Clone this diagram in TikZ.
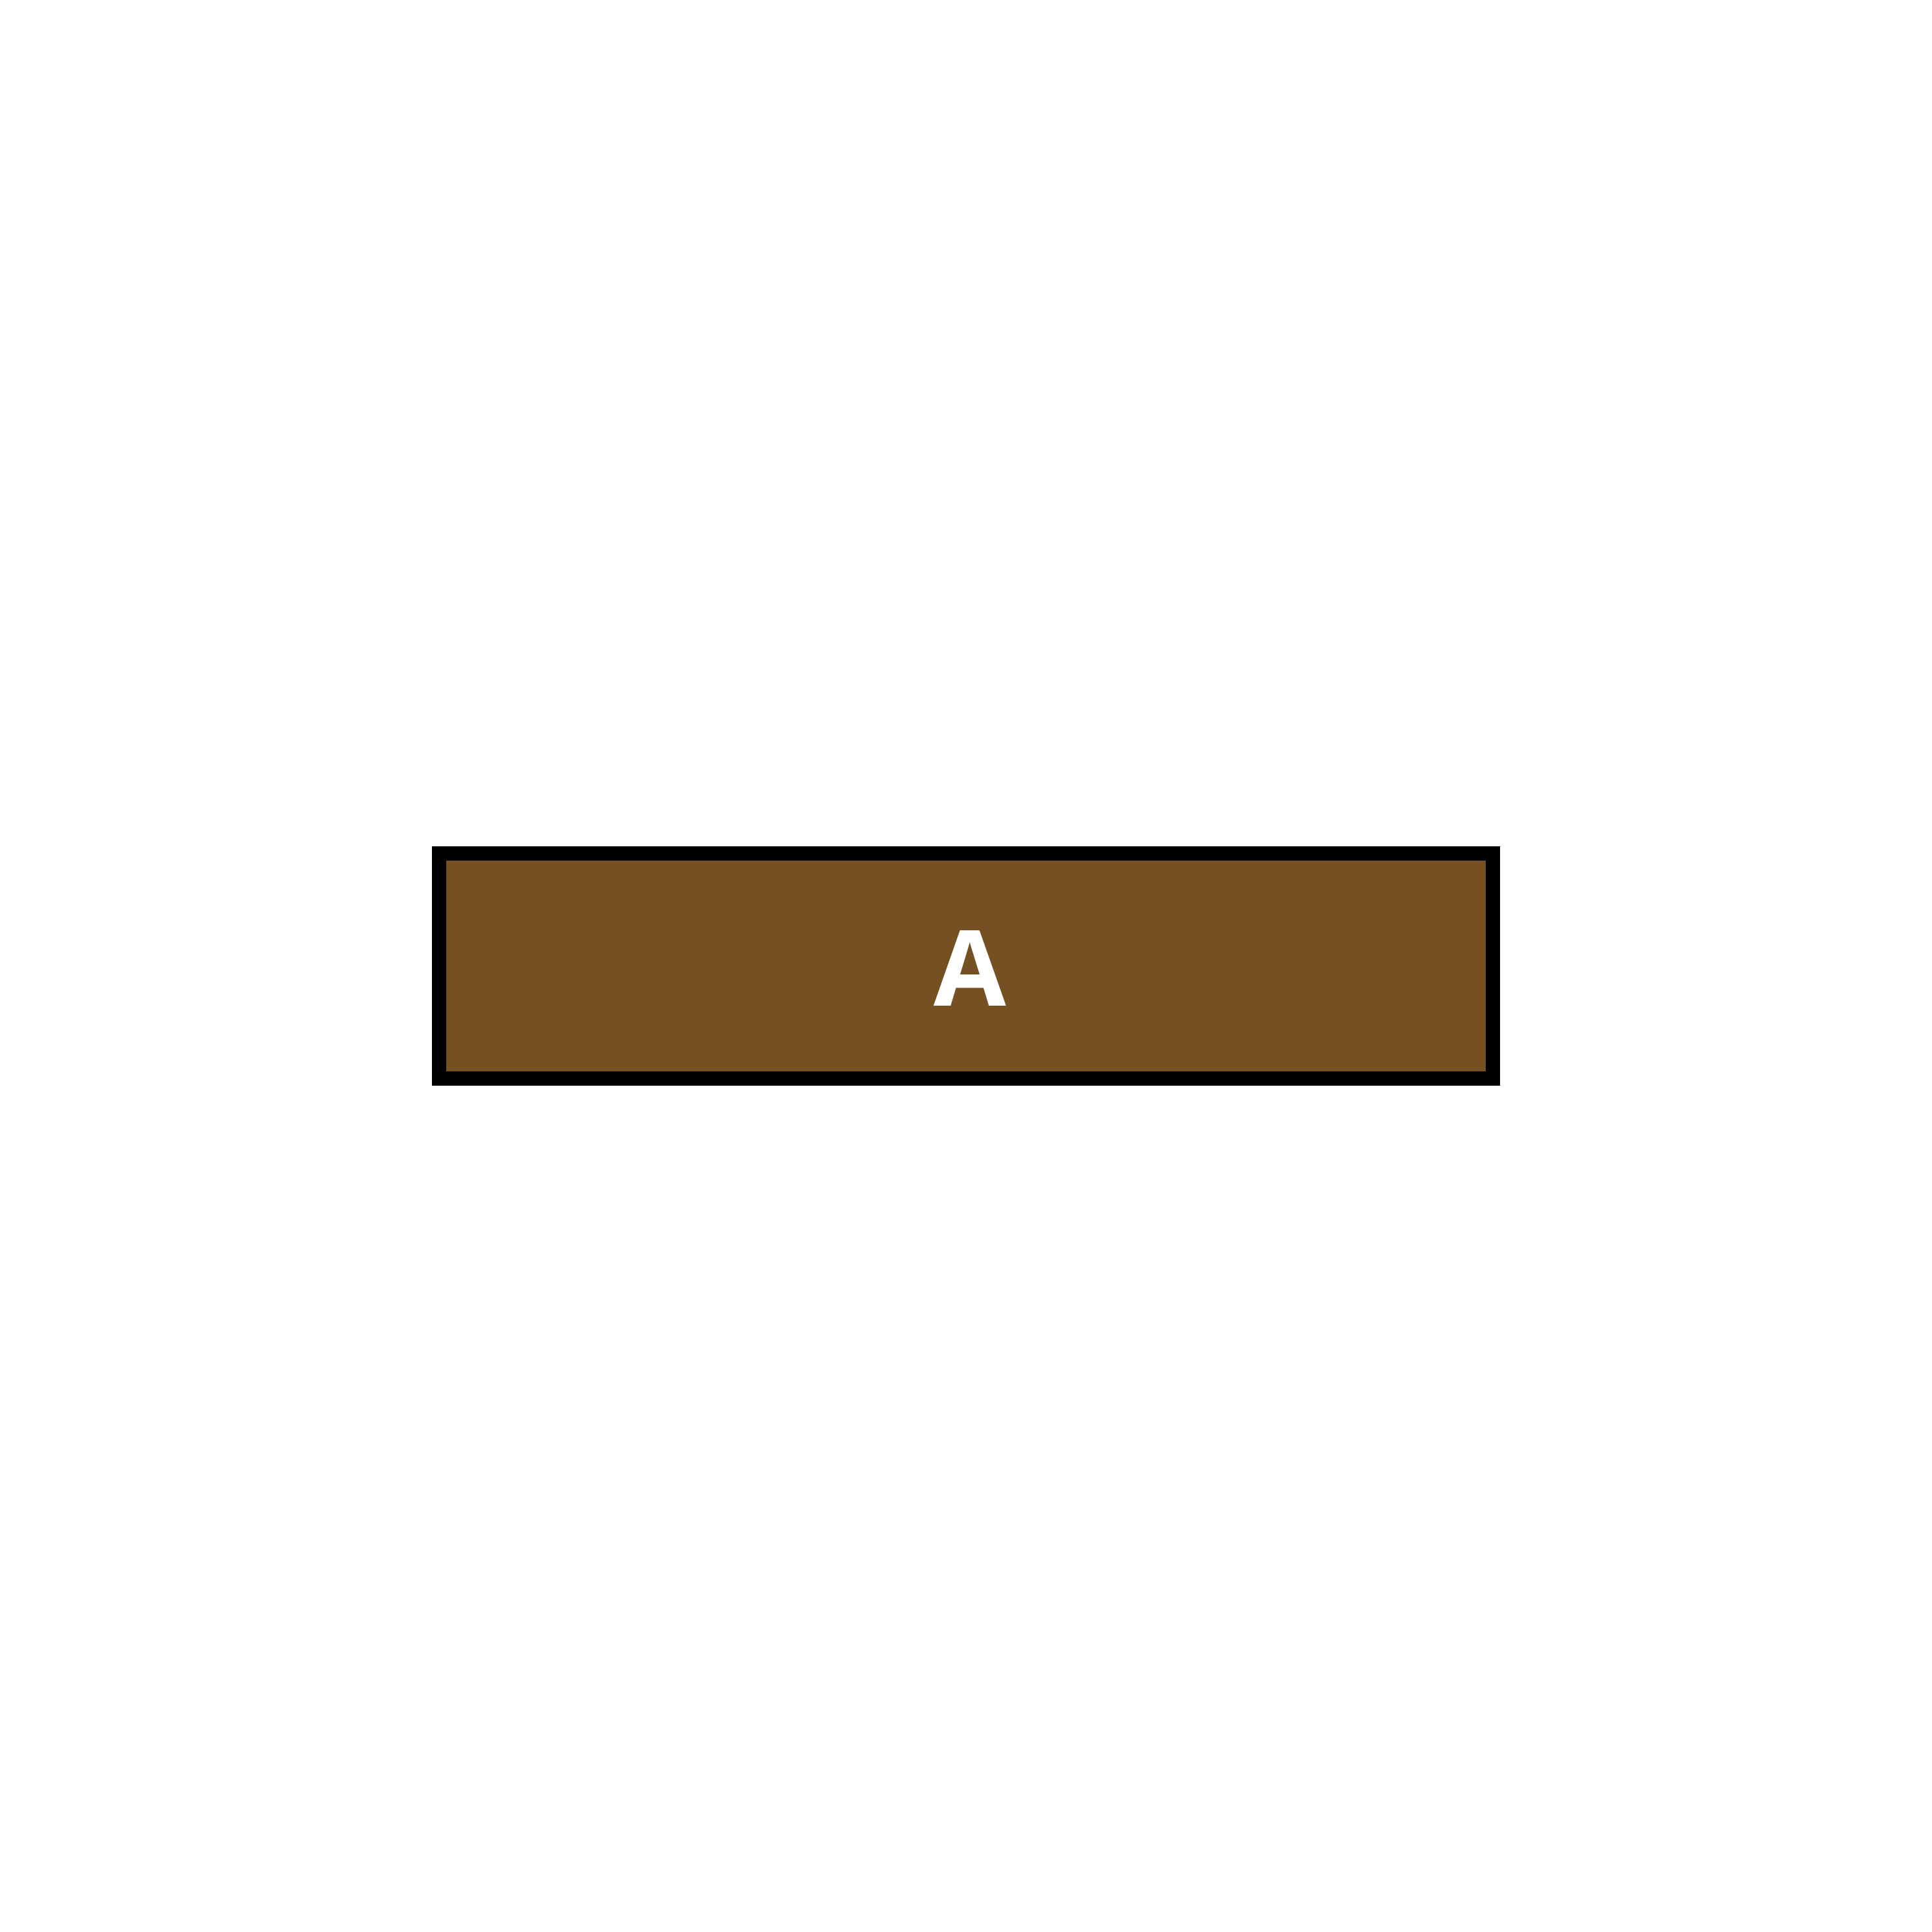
\documentclass[tikz,border=0pt]{standalone}
\usepackage{fontspec}
\usepackage{tikz}
\newfontfamily\blockfont{Open Sans}
\definecolor{blockbrown}{RGB}{117,80,35}

\begin{document}
\begin{tikzpicture}
      \useasboundingbox [fill=white] (0,0) rectangle (29.7,29.7);

      \node [draw=black,line width=6.3pt,fill=blockbrown,minimum width=16.2cm,minimum height=3.46cm,inner sep=0pt] (blockA) at (14.85,14.85) {};
      \node [inner sep=0pt,text=white,font=\blockfont\bfseries\fontsize{46}{50}\selectfont] (blockAlabel) at (14.91,14.81) {A};

    \end{tikzpicture}
\end{document}
